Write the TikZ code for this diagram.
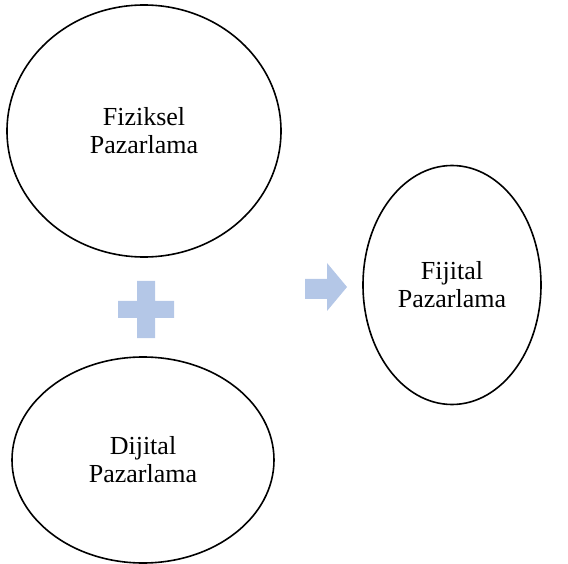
\documentclass[tikz,border=0pt]{standalone}
\usepackage{fontspec}
\setmainfont{Liberation Serif}
\usetikzlibrary{shapes.geometric}
\definecolor{signblue}{HTML}{B4C7E7}
\begin{document}
\begin{tikzpicture}[
    x=1pt, y=-1pt,
    oval/.style={
        draw,
        ellipse,
        line width=1.6pt,
        inner sep=0pt,
        align=center,
        font=\fontsize{26}{28}\selectfont
    },
    sign/.style={fill=signblue, draw=none}
]
\useasboundingbox (0,0) rectangle (568,564);

% ===== Ovals =====
\node[oval, minimum width=274, minimum height=252] (fiziksel) at (144,131) {Fiziksel\\Pazarlama};
\node[oval, minimum width=262, minimum height=206] (dijital) at (143,460) {Dijital\\Pazarlama};
\node[oval, minimum width=178, minimum height=239] (fijital) at (452,285) {Fijital\\Pazarlama};

% ===== Signs =====
\fill[sign] (137,281) -- (155,281) -- (155,301) -- (174,301) -- (174,318) -- (155,318)
    -- (155,338) -- (137,338) -- (137,318) -- (118,318) -- (118,301) -- (137,301) -- cycle;
\fill[sign] (305,279) -- (327,279) -- (327,263) -- (347,287) -- (327,311) -- (327,299)
    -- (305,299) -- cycle;

\end{tikzpicture}
\end{document}
